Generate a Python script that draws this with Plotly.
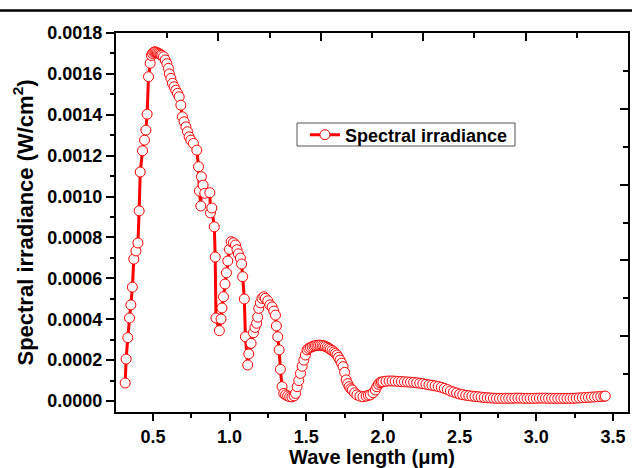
import plotly.graph_objects as go

# Wavelength (um) and spectral irradiance (W/cm^2)
wavelength = [
    0.319, 0.325, 0.336, 0.347, 0.356, 0.366, 0.375, 0.389, 0.402, 0.410,
    0.417, 0.432, 0.445, 0.454, 0.462, 0.471, 0.482, 0.490,
    0.497, 0.505, 0.513, 0.521, 0.529, 0.537, 0.545, 0.552,
    0.558, 0.569, 0.580, 0.591, 0.601, 0.607, 0.617, 0.627, 0.638, 0.649,
    0.660, 0.671, 0.682, 0.692, 0.703, 0.715, 0.725, 0.736, 0.747, 0.764,
    0.786, 0.797, 0.803, 0.812, 0.816, 0.827, 0.838, 0.871, 0.875, 0.884,
    0.900, 0.906, 0.911, 0.933, 0.944, 0.950, 0.960, 0.970, 0.979, 0.988,
    0.999, 1.010, 1.025, 1.038, 1.048, 1.057, 1.070, 1.078, 1.085, 1.096,
    1.103, 1.118, 1.125, 1.140, 1.155, 1.165, 1.176, 1.183, 1.190, 1.200,
    1.211, 1.223, 1.233, 1.249, 1.262, 1.277, 1.288, 1.299, 1.305, 1.314,
    1.323, 1.331, 1.342, 1.353, 1.365, 1.378, 1.392, 1.406, 1.420, 1.430,
    1.440, 1.451, 1.462, 1.473, 1.484, 1.494, 1.505, 1.516, 1.527, 1.538,
    1.550, 1.560, 1.570, 1.581, 1.592, 1.603, 1.614, 1.625, 1.636, 1.647,
    1.657, 1.668, 1.680, 1.690, 1.700, 1.710, 1.720, 1.730, 1.740, 1.750,
    1.760, 1.770, 1.780, 1.790, 1.800, 1.815, 1.830, 1.850, 1.870, 1.890,
    1.905, 1.918, 1.935, 1.950, 1.960, 1.970, 1.980, 1.990,
    2.00, 2.02, 2.04, 2.06, 2.08, 2.10, 2.12, 2.14, 2.16, 2.18,
    2.20, 2.22, 2.24, 2.26, 2.28, 2.30, 2.32, 2.34, 2.36, 2.38,
    2.40, 2.42, 2.44, 2.46, 2.48, 2.50, 2.52, 2.54, 2.56, 2.58,
    2.60, 2.62, 2.64, 2.66, 2.68, 2.70, 2.72, 2.74, 2.76, 2.78,
    2.80, 2.82, 2.84, 2.86, 2.88, 2.90, 2.92, 2.94, 2.96, 2.98,
    3.00, 3.02, 3.04, 3.06, 3.08, 3.10, 3.12, 3.14, 3.16, 3.18,
    3.20, 3.22, 3.24, 3.26, 3.28, 3.30, 3.32, 3.34, 3.36, 3.38,
    3.40, 3.42, 3.44, 3.45,
]
irradiance = [
    0.000088, 0.000205, 0.000310, 0.000406, 0.000470, 0.000557, 0.000694, 0.000734, 0.000773, 0.000930,
    0.001120, 0.001224, 0.001276, 0.001325, 0.001403, 0.001586, 0.001652, 0.001690,
    0.001700, 0.001706, 0.001708, 0.001706, 0.001703, 0.001700, 0.001697, 0.001693,
    0.001690, 0.001684, 0.001668, 0.001650, 0.001627, 0.001600, 0.001578, 0.001554, 0.001537, 0.001520,
    0.001505, 0.001488, 0.001447, 0.001390, 0.001366, 0.001341, 0.001317, 0.001292, 0.001276, 0.001260,
    0.001227, 0.001146, 0.001027, 0.000954, 0.001097, 0.001056, 0.001016, 0.001019, 0.000920, 0.000944,
    0.000852, 0.000704, 0.000406, 0.000344, 0.000401, 0.000455, 0.000510, 0.000572, 0.000627, 0.000685,
    0.000742, 0.000779, 0.000774, 0.000763, 0.000740, 0.000720, 0.000699, 0.000670, 0.000608, 0.000499,
    0.000314, 0.000176, 0.000230, 0.000282, 0.000334, 0.000360, 0.000380, 0.000410, 0.000453, 0.000480,
    0.000502, 0.000510, 0.000502, 0.000490, 0.000470, 0.000460, 0.000440, 0.000420, 0.000367, 0.000314,
    0.000250, 0.000155, 0.000070, 0.000037, 0.000030, 0.000025, 0.000021, 0.000020, 0.000025, 0.000037,
    0.000070, 0.000100, 0.000135, 0.000170, 0.000200, 0.000225, 0.000250, 0.000257, 0.000262, 0.000266,
    0.000269, 0.000271, 0.000272, 0.000273, 0.000273, 0.000272, 0.000270, 0.000267, 0.000263, 0.000258,
    0.000253, 0.000247, 0.000240, 0.000233, 0.000225, 0.000213, 0.000200, 0.000185, 0.000168, 0.000140,
    0.000103, 0.000085, 0.000070, 0.000060, 0.000054, 0.000040, 0.000030, 0.000024, 0.000021, 0.000024,
    0.000028, 0.000030, 0.000040, 0.000054, 0.000070, 0.000082, 0.000090, 0.000093,
    0.000094, 0.000097, 0.000098, 0.000098, 0.000097, 0.000096, 0.000095, 0.000094, 0.000093, 0.000092,
    0.000091, 0.000089, 0.000087, 0.000085, 0.000082, 0.000079, 0.000077, 0.000074, 0.000071, 0.000067,
    0.000062, 0.000056, 0.000049, 0.000044, 0.000039, 0.000034, 0.000031, 0.000028, 0.000026, 0.000024,
    0.000022, 0.000021, 0.000019, 0.000017, 0.000016, 0.000015, 0.000014, 0.000013, 0.000013, 0.000013,
    0.000013, 0.000013, 0.000013, 0.000014, 0.000014, 0.000014, 0.000013, 0.000013, 0.000013, 0.000013,
    0.000013, 0.000014, 0.000014, 0.000014, 0.000013, 0.000013, 0.000013, 0.000013, 0.000013, 0.000013,
    0.000013, 0.000013, 0.000013, 0.000014, 0.000015, 0.000016, 0.000017, 0.000018, 0.000019, 0.000020,
    0.000021, 0.000022, 0.000023, 0.000024,
]

series_name = "Spectral irradiance"
x_title = "Wave length (\u03bcm)"
y_title = "Spectral irradiance (W/cm<sup>2</sup>)"

FONT = "Liberation Sans, Arial, sans-serif"
RED = "#ff0000"

fig = go.Figure()
fig.add_trace(go.Scatter(
    x=wavelength, y=irradiance, name=series_name,
    mode="lines+markers",
    line=dict(color=RED, width=3),
    marker=dict(symbol="circle", size=10, color="white",
                line=dict(color=RED, width=1)),
))
# helper trace for the top/right frame axes
fig.add_trace(go.Scatter(x=[None], y=[None], xaxis="x2", yaxis="y2",
                         showlegend=False, hoverinfo="skip"))

tickfont = dict(family=FONT, size=18, color="black", weight="bold")

fig.update_layout(
    width=632, height=468,
    margin=dict(l=116, r=4, t=33, b=56, autoexpand=False),
    paper_bgcolor="white", plot_bgcolor="white",
    showlegend=True,
    legend=dict(x=0.369, y=0.7797, xanchor="left", yanchor="top",
                bgcolor="rgba(0,0,0,0)", borderwidth=0,
                font=dict(family=FONT, size=18, color="black", weight="bold")),
    xaxis=dict(
        range=[0.259, 3.598], tick0=0, dtick=0.5, tickformat=".1f",
        showgrid=False, zeroline=False, automargin=False,
        showline=True, linecolor="black", linewidth=2,
        ticks="outside", ticklen=7, tickwidth=2, tickcolor="black",
        minor=dict(dtick=0.25, ticks="outside", ticklen=4, tickwidth=2, tickcolor="black"),
        tickfont=tickfont,
        title=dict(text=x_title, standoff=18,
                   font=dict(family=FONT, size=20, color="black", weight="bold")),
    ),
    yaxis=dict(
        range=[-0.0000538, 0.00180001], tick0=0, dtick=0.0002, tickformat=".4f",
        showgrid=False, zeroline=False, automargin=False,
        showline=True, linecolor="black", linewidth=2,
        ticks="outside", ticklen=8, tickwidth=2, tickcolor="black",
        minor=dict(dtick=0.0001, ticks="outside", ticklen=4, tickwidth=2, tickcolor="black"),
        tickfont=tickfont,
        title=dict(text=y_title, standoff=8,
                   font=dict(family=FONT, size=22, color="black", weight="bold")),
    ),
    xaxis2=dict(
        overlaying="x", anchor="y2", side="top", range=[0, 5], dtick=1,
        showgrid=False, zeroline=False, showticklabels=False,
        showline=True, linecolor="black", linewidth=2,
        ticks="inside", ticklen=8, tickwidth=2, tickcolor="black",
        minor=dict(dtick=0.5, ticks="inside", ticklen=5, tickwidth=2, tickcolor="black"),
    ),
    yaxis2=dict(
        overlaying="y", anchor="x2", side="right", range=[0, 5], dtick=1,
        showgrid=False, zeroline=False, showticklabels=False,
        showline=True, linecolor="black", linewidth=2,
        ticks="inside", ticklen=8, tickwidth=2, tickcolor="black",
        minor=dict(dtick=0.5, ticks="inside", ticklen=5, tickwidth=2, tickcolor="black"),
    ),
    shapes=[
        dict(type="line", xref="paper", yref="paper",
             x0=-0.23, x1=1.01, y0=1.0594, y1=1.0594,
             line=dict(color="black", width=2.5)),
        # legend frame
        dict(type="rect", xref="paper", yref="paper",
             x0=(297 - 116) / 512, x1=(515 - 116) / 512,
             y0=(412 - 146) / 379, y1=(412 - 123) / 379,
             line=dict(color="#555555", width=1), fillcolor="rgba(0,0,0,0)",
             layer="above"),
    ],
)

fig.write_html("out.html")
